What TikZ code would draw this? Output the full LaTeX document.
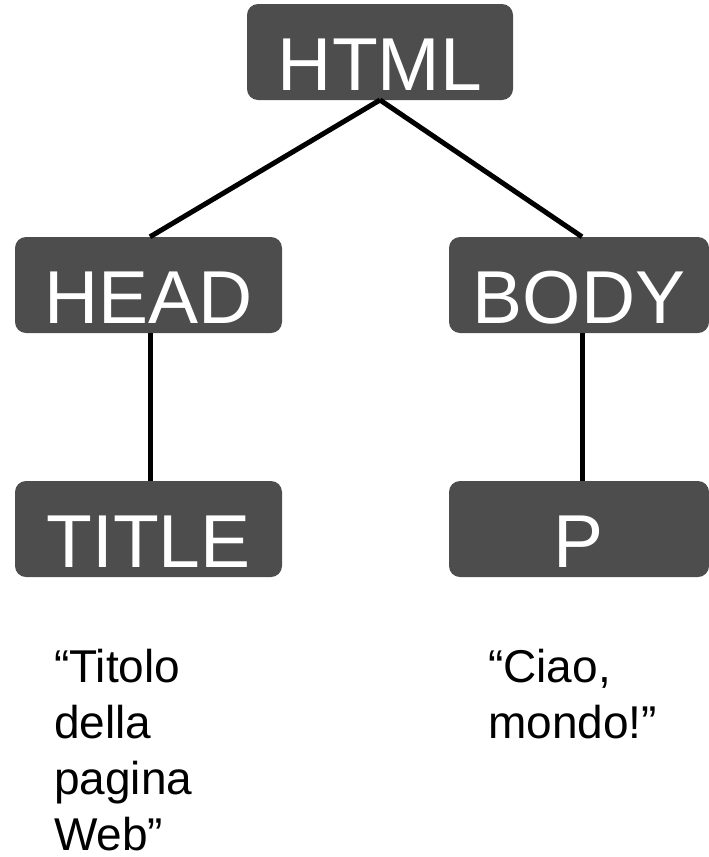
\documentclass[tikz,border=0pt]{standalone}
\usepackage{fontspec}
\setmainfont{Liberation Sans}
\definecolor{boxgray}{HTML}{4D4D4D}
\tikzset{
  tag/.style={fill=boxgray, draw=none, rounded corners=11pt, text=white, font=\fontsize{75}{80}\selectfont, inner sep=0pt, text height=77pt, text depth=0pt},
  link/.style={line width=5pt, black},
  leaf/.style={anchor=north west, align=left, inner sep=0pt, font=\fontsize{46}{56}\selectfont, text=black}
}
\begin{document}
\begin{tikzpicture}[x=1pt,y=-1pt]
\useasboundingbox (0,0) rectangle (709,857);
\node[tag, minimum width=266pt, minimum height=96pt] (html) at (380,52) {HTML};
\node[tag, minimum width=267pt, minimum height=96pt] (head) at (148.5,285) {HEAD};
\node[tag, minimum width=260pt, minimum height=96pt] (body) at (579,285) {BODY};
\node[tag, minimum width=267pt, minimum height=96pt] (title) at (148.5,529) {TITLE};
\node[tag, minimum width=260pt, minimum height=96pt] (p) at (579,529) {P};
\coordinate (hb) at (380,100);
\draw[link] (hb) -- ([xshift=1.5pt]head.north);
\draw[link] (hb) -- ([xshift=3pt]body.north);
\draw[link] ([xshift=1.5pt]head.south) -- ([xshift=1.5pt]title.north);
\draw[link] ([xshift=3pt]body.south) -- ([xshift=3pt]p.north);
\node[leaf] (t1) at (54,649) {“Titolo\\della\\pagina\\Web”};
\node[leaf] (t2) at (488,649) {“Ciao,\\mondo!”};
\end{tikzpicture}
\end{document}
